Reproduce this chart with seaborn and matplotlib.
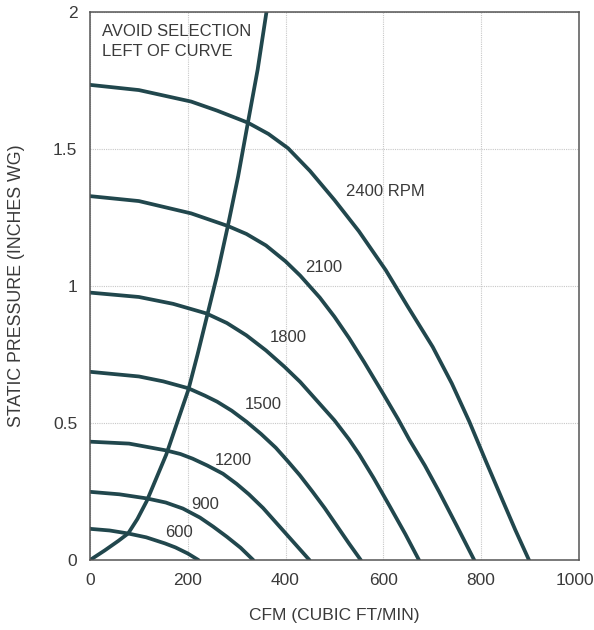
import numpy as np
import pandas as pd
import matplotlib
matplotlib.use("Agg")
import matplotlib.pyplot as plt
import matplotlib.transforms as mtransforms
import seaborn as sns
from matplotlib.ticker import MultipleLocator, FuncFormatter

# fan curves (CFM, static pressure in inches WG)
cfm_2400 = [0, 100, 207, 260, 323, 365, 405, 450, 500, 550, 605, 650, 701, 740, 776, 810, 843, 870, 898]
sp_2400 = [1.734, 1.715, 1.673, 1.64, 1.596, 1.555, 1.503, 1.42, 1.314, 1.20, 1.058, 0.925, 0.778,
           0.645, 0.505, 0.36, 0.222, 0.11, 0]

cfm_2100 = [0, 100, 207, 282, 320, 360, 400, 430, 470, 500, 530, 561, 602, 630, 653, 685, 714, 750, 786]
sp_2100 = [1.328, 1.31, 1.265, 1.219, 1.19, 1.148, 1.09, 1.038, 0.958, 0.888, 0.81, 0.722, 0.60,
           0.515, 0.44, 0.345, 0.25, 0.126, 0]

cfm_1800 = [0, 100, 170, 238, 280, 320, 360, 398, 430, 460, 500, 530, 551, 580, 612, 645, 673]
sp_1800 = [0.976, 0.96, 0.935, 0.90, 0.865, 0.82, 0.765, 0.705, 0.65, 0.59, 0.51, 0.44, 0.385,
           0.30, 0.20, 0.095, 0]

cfm_1500 = [0, 100, 150, 201, 235, 260, 290, 320, 350, 380, 405, 429, 455, 480, 505, 530, 554]
sp_1500 = [0.687, 0.67, 0.652, 0.627, 0.60, 0.578, 0.545, 0.505, 0.46, 0.41, 0.36, 0.31, 0.25,
           0.19, 0.125, 0.06, 0]

cfm_1200 = [0, 80, 156, 185, 210, 240, 272, 300, 325, 354, 380, 405, 428, 449]
sp_1200 = [0.432, 0.425, 0.40, 0.387, 0.37, 0.345, 0.315, 0.278, 0.24, 0.19, 0.138, 0.088, 0.042, 0]

cfm_900 = [0, 60, 116, 155, 190, 225, 252, 280, 308, 334]
sp_900 = [0.249, 0.24, 0.225, 0.21, 0.188, 0.155, 0.122, 0.085, 0.045, 0]

cfm_600 = [0, 40, 78, 115, 153, 175, 200, 222]
sp_600 = [0.114, 0.108, 0.097, 0.083, 0.061, 0.046, 0.024, 0]

# "avoid selection" boundary curve
limit_cfm = [0, 30, 58, 78, 97, 116, 136, 156, 178, 201, 220, 238, 260, 282, 303, 323, 343, 361]
limit_sp = [0, 0.035, 0.07, 0.097, 0.15, 0.215, 0.30, 0.385, 0.50, 0.62, 0.75, 0.88, 1.04,
            1.219, 1.40, 1.596, 1.79, 2.0]

rpm_labels = ["2400 RPM", "2100", "1800", "1500", "1200", "900", "600"]
label_cfm = [524, 441, 367, 316, 255, 207, 153]
label_sp = [1.344, 1.066, 0.813, 0.569, 0.365, 0.204, 0.10]

x_ticks = [0, 200, 400, 600, 800, 1000]
y_ticks = [0, 0.5, 1, 1.5, 2]

curves = [
    (cfm_2400, sp_2400), (cfm_2100, sp_2100), (cfm_1800, sp_1800),
    (cfm_1500, sp_1500), (cfm_1200, sp_1200), (cfm_900, sp_900),
    (cfm_600, sp_600),
]

sns.set_style("white")
plt.rcParams["font.family"] = ["Liberation Sans", "DejaVu Sans"]

line_color = "#21474d"
text_color = "#3a3a3a"

fig = plt.figure(figsize=(5.94, 6.30), dpi=100)
ax = fig.add_axes([0.1515, 0.111, 0.823, 0.870])

for xs, ys in curves:
    df = pd.DataFrame({"cfm": xs, "sp": ys})
    sns.lineplot(data=df, x="cfm", y="sp", sort=False, color=line_color,
                 linewidth=2.7, ax=ax)

lim_df = pd.DataFrame({"cfm": limit_cfm, "sp": limit_sp})
sns.lineplot(data=lim_df, x="cfm", y="sp", sort=False, color=line_color,
             linewidth=2.7, ax=ax)

for txt, lx, ly in zip(rpm_labels, label_cfm, label_sp):
    ax.text(lx, ly, txt, fontsize=12, color=text_color, va="center", ha="left")

ax.text(24, 1.928, "AVOID SELECTION", fontsize=12, color=text_color,
        va="center", ha="left")
ax.text(24, 1.855, "LEFT OF CURVE", fontsize=12, color=text_color,
        va="center", ha="left")

ax.set_xlim(0, 1000)
ax.set_ylim(0, 2)
ax.set_xticks(x_ticks)
ax.set_yticks(y_ticks)
ax.xaxis.set_major_formatter(FuncFormatter(lambda v, p: f"{v:g}"))
ax.yaxis.set_major_formatter(FuncFormatter(lambda v, p: f"{v:g}"))
ax.xaxis.set_minor_locator(MultipleLocator(100))
ax.yaxis.set_minor_locator(MultipleLocator(0.1))
ax.tick_params(axis="both", which="major", length=0, pad=9,
               labelsize=12.5, labelcolor=text_color)
ax.tick_params(axis="both", which="minor", direction="in", length=4,
               width=0.8, color="#777777")
ax.tick_params(axis="x", which="minor", top=False)
ax.tick_params(axis="y", which="minor", right=False)

# nudge the last x label so it stays inside the canvas
last = ax.get_xticklabels()[-1]
last.set_transform(last.get_transform() +
                   mtransforms.ScaledTranslation(-4 / 100, 0, fig.dpi_scale_trans))

ax.grid(True, which="major", color="#c8c8c8", linestyle=(0, (1, 1)), linewidth=0.8)
for s in ax.spines.values():
    s.set_color("#555555")
    s.set_linewidth(1.1)

ax.set_xlabel("CFM (CUBIC FT/MIN)", fontsize=12.5, color=text_color, labelpad=15)
ax.set_ylabel("STATIC PRESSURE (INCHES WG)", fontsize=12.8, color=text_color,
              labelpad=20)

fig.savefig("out.png", dpi=100)
